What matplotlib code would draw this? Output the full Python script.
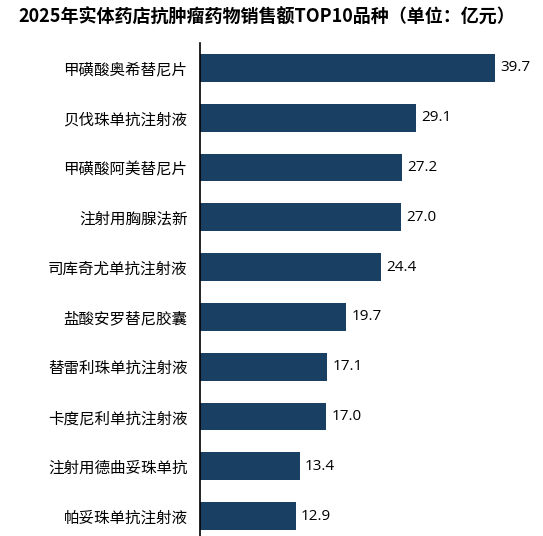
import matplotlib.pyplot as plt
import numpy as np

plt.rcParams['font.family'] = ['Noto Sans CJK SC', 'DejaVu Sans']

names = ['甲磺酸奥希替尼片', '贝伐珠单抗注射液', '甲磺酸阿美替尼片', '注射用胸腺法新',
         '司库奇尤单抗注射液', '盐酸安罗替尼胶囊', '替雷利珠单抗注射液', '卡度尼利单抗注射液',
         '注射用德曲妥珠单抗', '帕妥珠单抗注射液']
sales = [39.7, 29.1, 27.2, 27.0, 24.4, 19.7, 17.1, 17.0, 13.4, 12.9]

fig = plt.figure(figsize=(5.43, 5.36), dpi=100)
ax = fig.add_axes([200 / 543, 0, 343 / 543, 493 / 536])

ind = np.arange(len(sales))
ax.barh(ind, sales, height=0.56, color='#193f63')
ax.set_ylim(9.4, -0.5)
ax.set_xlim(0, 343 / 7.43)
ax.set_yticks(ind)
ax.set_yticklabels(names, fontsize=11.2)
ax.tick_params(axis='y', length=0, pad=9)
ax.set_xticks([])
for s in ['top', 'right', 'bottom']:
    ax.spines[s].set_visible(False)
ax.spines['left'].set_linewidth(1.2)

for i, v in enumerate(sales):
    ax.text(v + 0.7, i, '%.1f' % v, va='center', ha='left', fontsize=11,
            family=['Open Sans', 'DejaVu Sans'])

fig.text(18 / 543, 1 - 17 / 536, '2025年实体药店抗肿瘤药物销售额TOP10品种（单位：亿元）',
         fontsize=13, fontweight='bold', va='center', ha='left')

plt.savefig('out.png', dpi=100)
